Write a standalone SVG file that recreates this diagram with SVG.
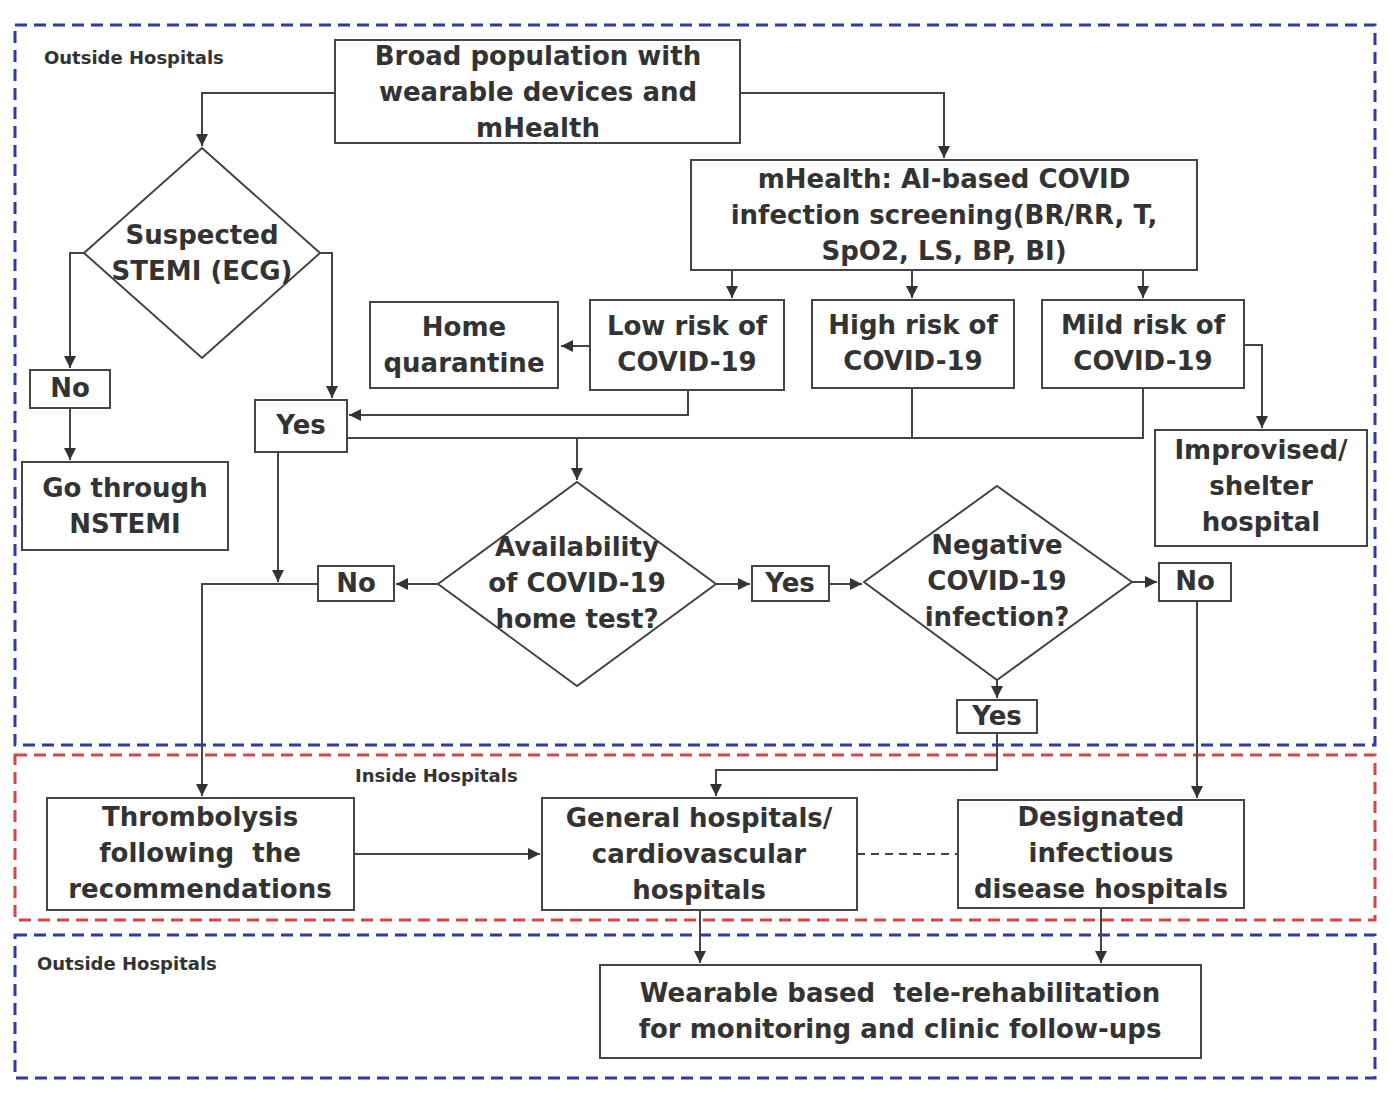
<svg xmlns="http://www.w3.org/2000/svg" width="1394" height="1102" viewBox="0 0 1394 1102">
<defs>
<marker id="a" viewBox="0 0 10 10" refX="10" refY="5" markerWidth="12" markerHeight="12" orient="auto" markerUnits="userSpaceOnUse"><path d="M0,0 L10,5 L0,10 z" fill="#333"/></marker>
</defs>
<style>
.n{fill:#fff;stroke:#444;stroke-width:2}
.t{font-family:"DejaVu Sans","Noto Sans",sans-serif;font-weight:bold;font-size:26px;fill:#333;text-anchor:middle;dominant-baseline:middle;white-space:pre}
.s{font-family:"DejaVu Sans","Noto Sans",sans-serif;font-weight:bold;font-size:18px;fill:#333}
.c{fill:none;stroke:#444;stroke-width:2}
.ca{fill:none;stroke:#444;stroke-width:2;marker-end:url(#a)}
</style>
<rect width="1394" height="1102" fill="#fff"/>
<g id="regions" fill="none" stroke-width="3" stroke-dasharray="12,7">
<rect x="15" y="25" width="1360" height="720" stroke="#2e3aa6"/>
<rect x="15" y="755" width="1360" height="165" stroke="#d94545"/>
<rect x="15" y="935" width="1360" height="143" stroke="#2e3aa6"/>
</g>
<text class="s" x="44" y="64">Outside Hospitals</text>
<text class="s" x="355" y="782">Inside Hospitals</text>
<text class="s" x="37" y="970">Outside Hospitals</text>
<g id="connectors">
<polyline class="ca" points="335,93 202,93 202,146"/>
<polyline class="ca" points="740,93 944,93 944,158"/>
<polyline class="ca" points="732,270 732,298"/>
<polyline class="ca" points="912,270 912,298"/>
<polyline class="ca" points="1143,270 1143,298"/>
<polyline class="ca" points="590,346 561,346"/>
<polyline class="ca" points="688,390 688,415 349,415"/>
<polyline class="c" points="912,388 912,438"/>
<polyline class="c" points="1143,388 1143,438 347,438"/>
<polyline class="ca" points="577,438 577,480"/>
<polyline class="ca" points="1244,345 1262,345 1262,428"/>
<polyline class="ca" points="84,253 70,253 70,368"/>
<polyline class="ca" points="70,408 70,460"/>
<polyline class="ca" points="320,253 332,253 332,398"/>
<polyline class="ca" points="278,452 278,582"/>
<polyline class="ca" points="318,584 202,584 202,796"/>
<polyline class="ca" points="438,584 396,584"/>
<polyline class="ca" points="716,584 750,584"/>
<polyline class="ca" points="829,584 862,584"/>
<polyline class="ca" points="1132,582 1157,582"/>
<polyline class="ca" points="997,680 997,698"/>
<polyline class="ca" points="997,733 997,770 716,770 716,796"/>
<polyline class="ca" points="1197,601 1197,798"/>
<polyline class="ca" points="354,854 540,854"/>
<polyline class="c" points="857,854 958,854" stroke-dasharray="8,6"/>
<polyline class="ca" points="700,910 700,963"/>
<polyline class="ca" points="1101,908 1101,963"/>
</g>
<g id="broad"><rect class="n" x="335" y="40" width="405" height="103"/><text class="t" x="538" y="57">Broad population with</text><text class="t" x="538" y="93">wearable devices and</text><text class="t" x="538" y="129">mHealth</text></g>
<g id="mhealth"><rect class="n" x="691" y="160" width="506" height="110"/><text class="t" x="944" y="180">mHealth: AI-based COVID</text><text class="t" x="944" y="216">infection screening(BR/RR, T,</text><text class="t" x="944" y="252">SpO2, LS, BP, BI)</text></g>
<g id="stemi"><polygon class="n" points="202,148 320,253 202,358 84,253"/><text class="t" x="202" y="236">Suspected</text><text class="t" x="202" y="272">STEMI (ECG)</text></g>
<g id="no1"><rect class="n" x="30" y="370" width="80" height="38"/><text class="t" x="70" y="389">No</text></g>
<g id="nstemi"><rect class="n" x="22" y="462" width="206" height="88"/><text class="t" x="125" y="489">Go through</text><text class="t" x="125" y="525">NSTEMI</text></g>
<g id="yes1"><rect class="n" x="255" y="400" width="92" height="52"/><text class="t" x="301" y="426">Yes</text></g>
<g id="home"><rect class="n" x="370" y="302" width="188" height="86"/><text class="t" x="464" y="328">Home</text><text class="t" x="464" y="364">quarantine</text></g>
<g id="low"><rect class="n" x="590" y="300" width="194" height="90"/><text class="t" x="687" y="327">Low risk of</text><text class="t" x="687" y="363">COVID-19</text></g>
<g id="high"><rect class="n" x="812" y="300" width="202" height="88"/><text class="t" x="913" y="326">High risk of</text><text class="t" x="913" y="362">COVID-19</text></g>
<g id="mild"><rect class="n" x="1042" y="300" width="202" height="88"/><text class="t" x="1143" y="326">Mild risk of</text><text class="t" x="1143" y="362">COVID-19</text></g>
<g id="improvised"><rect class="n" x="1155" y="430" width="212" height="116"/><text class="t" x="1261" y="451">Improvised/</text><text class="t" x="1261" y="487">shelter</text><text class="t" x="1261" y="523">hospital</text></g>
<g id="avail"><polygon class="n" points="577,482 716,584 577,686 438,584"/><text class="t" x="577" y="548">Availability</text><text class="t" x="577" y="584">of COVID-19</text><text class="t" x="577" y="620">home test?</text></g>
<g id="no2"><rect class="n" x="318" y="566" width="76" height="35"/><text class="t" x="356" y="584">No</text></g>
<g id="yes2"><rect class="n" x="752" y="566" width="77" height="35"/><text class="t" x="790" y="584">Yes</text></g>
<g id="neg"><polygon class="n" points="997,486 1132,582 997,680 864,582"/><text class="t" x="997" y="546">Negative</text><text class="t" x="997" y="582">COVID-19</text><text class="t" x="997" y="618">infection?</text></g>
<g id="no3"><rect class="n" x="1159" y="563" width="72" height="38"/><text class="t" x="1195" y="582">No</text></g>
<g id="yes3"><rect class="n" x="957" y="700" width="80" height="33"/><text class="t" x="997" y="717">Yes</text></g>
<g id="thromb"><rect class="n" x="47" y="798" width="307" height="112"/><text class="t" x="200" y="818">Thrombolysis</text><text class="t" x="200" y="854">following  the</text><text class="t" x="200" y="890">recommendations</text></g>
<g id="general"><rect class="n" x="542" y="798" width="315" height="112"/><text class="t" x="699" y="819">General hospitals/</text><text class="t" x="699" y="855">cardiovascular</text><text class="t" x="699" y="891">hospitals</text></g>
<g id="designated"><rect class="n" x="958" y="800" width="286" height="108"/><text class="t" x="1101" y="818">Designated</text><text class="t" x="1101" y="854">infectious</text><text class="t" x="1101" y="890">disease hospitals</text></g>
<g id="wearable"><rect class="n" x="600" y="965" width="601" height="93"/><text class="t" x="900" y="994">Wearable based  tele-rehabilitation</text><text class="t" x="900" y="1030">for monitoring and clinic follow-ups</text></g>
</svg>
